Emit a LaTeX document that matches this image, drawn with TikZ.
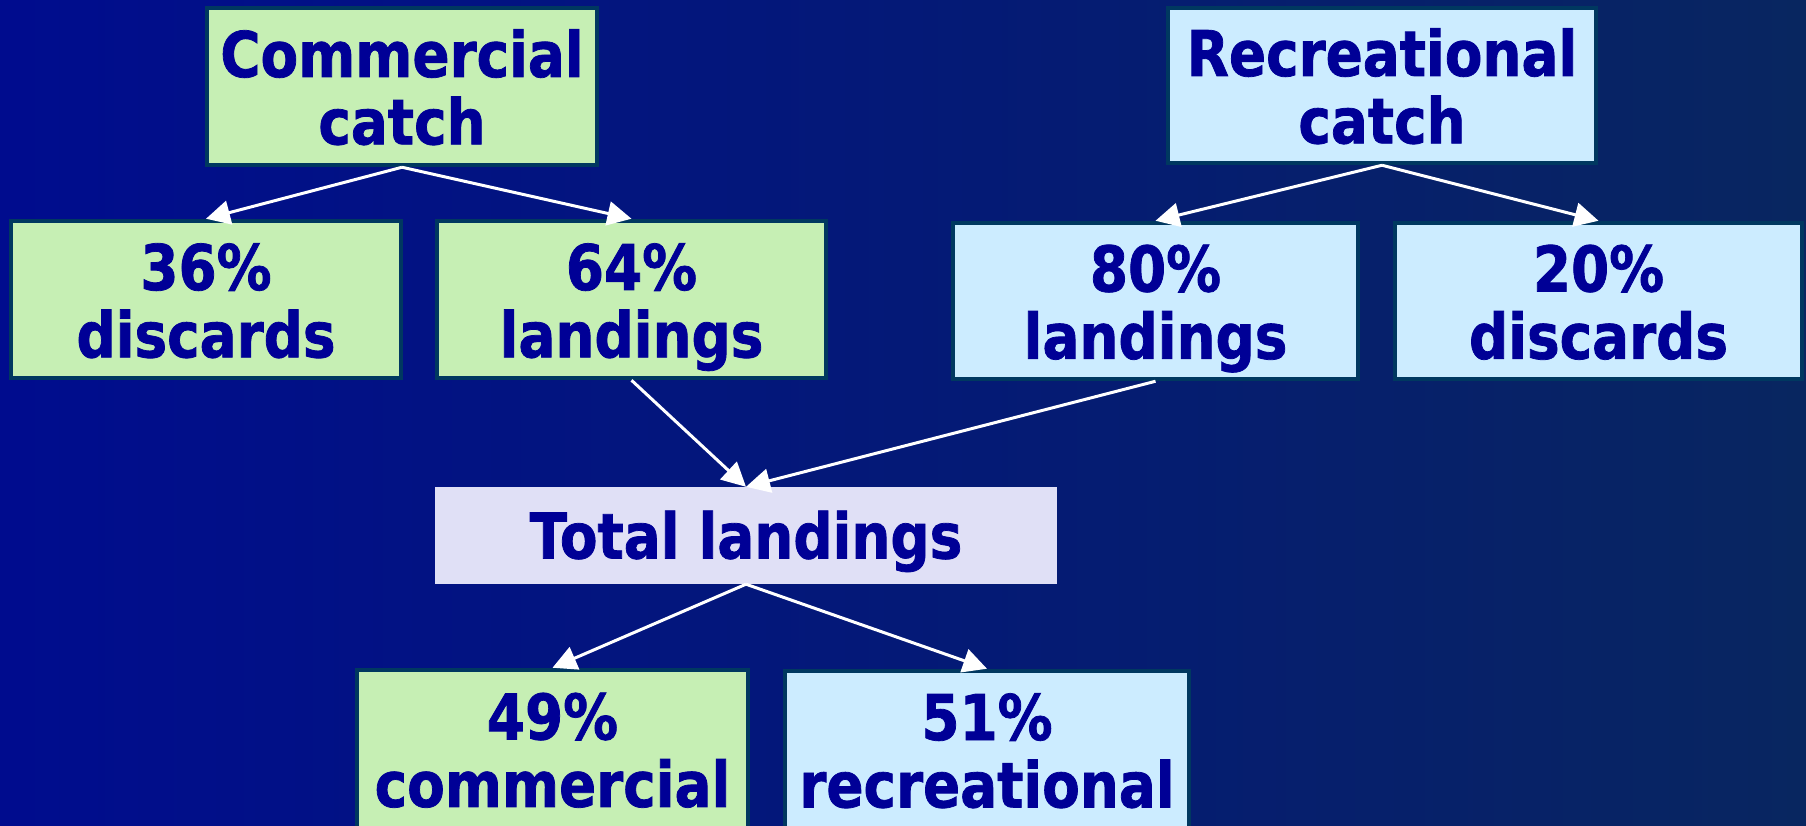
\documentclass[tikz,border=0pt]{standalone}
\usepackage{fontspec}
\setmainfont{DejaVu Sans}[FakeStretch=0.87, BoldFeatures={FakeBold=1.2}]
\usetikzlibrary{arrows.meta}
\definecolor{bgL}{RGB}{0,12,142}
\definecolor{bgR}{RGB}{8,38,96}
\definecolor{grn}{RGB}{198,239,180}
\definecolor{lblue}{RGB}{204,236,255}
\definecolor{lav}{RGB}{224,224,246}
\definecolor{edgec}{RGB}{0,56,96}
\definecolor{ink}{RGB}{0,0,150}
\newcommand\twoline[2]{\begin{tabular}[t]{@{}c@{}}#1\\#2\end{tabular}}
\tikzset{
  box/.style={draw=edgec, line width=4.5pt, text=ink, inner sep=0pt,
    font=\bfseries\fontsize{63}{65}\selectfont, text height=46pt, text depth=65pt},
  greenbox/.style={box, fill=grn},
  bluebox/.style={box, fill=lblue},
  totalbox/.style={fill=lav, text=ink, inner sep=0pt,
    font=\bfseries\fontsize{63}{65}\selectfont, text height=46pt, text depth=0pt},
  conn/.style={draw=white, line width=3pt, -{Triangle[length=24pt,width=24pt]}}
}
\begin{document}
\begin{tikzpicture}[x=1pt,y=-1pt]
\shade[left color=bgL, right color=bgR] (0,0) rectangle (1806,826);
\useasboundingbox (0,0) rectangle (1806,826);
\node[greenbox, minimum width=390pt, minimum height=157pt] (CC) at (402,86.5) {\twoline{Commercial}{catch}};
\node[greenbox, minimum width=390pt, minimum height=157pt] (D36) at (206,299.5) {\twoline{36\%}{discards}};
\node[greenbox, minimum width=389pt, minimum height=157pt] (L64) at (631.5,299.5) {\twoline{64\%}{landings}};
\node[bluebox, minimum width=428pt, minimum height=155pt] (RC) at (1382,85.5) {\twoline{Recreational}{catch}};
\node[bluebox, minimum width=405pt, minimum height=156pt] (L80) at (1155.5,301) {\twoline{80\%}{landings}};
\node[bluebox, minimum width=407pt, minimum height=156pt] (D20) at (1598.5,301) {\twoline{20\%}{discards}};
\node[totalbox, minimum width=622pt, minimum height=97pt] (TL) at (746,535.5) {Total landings};
\node[greenbox, minimum width=391pt, minimum height=158pt] (C49) at (552.5,749) {\twoline{49\%}{commercial}};
\node[bluebox, minimum width=404pt, minimum height=157pt] (R51) at (987,749.5) {\twoline{51\%}{recreational}};
\draw[conn] (CC.south) -- (D36.north);
\draw[conn] (CC.south) -- (L64.north);
\draw[conn] (RC.south) -- (L80.north);
\draw[conn] (RC.south) -- (D20.north);
\draw[conn] (L64.south) -- (TL.north);
\draw[conn] (L80.south) -- (TL.north);
\draw[conn] (TL.south) -- (C49.north);
\draw[conn] (TL.south) -- (R51.north);
\end{tikzpicture}
\end{document}
